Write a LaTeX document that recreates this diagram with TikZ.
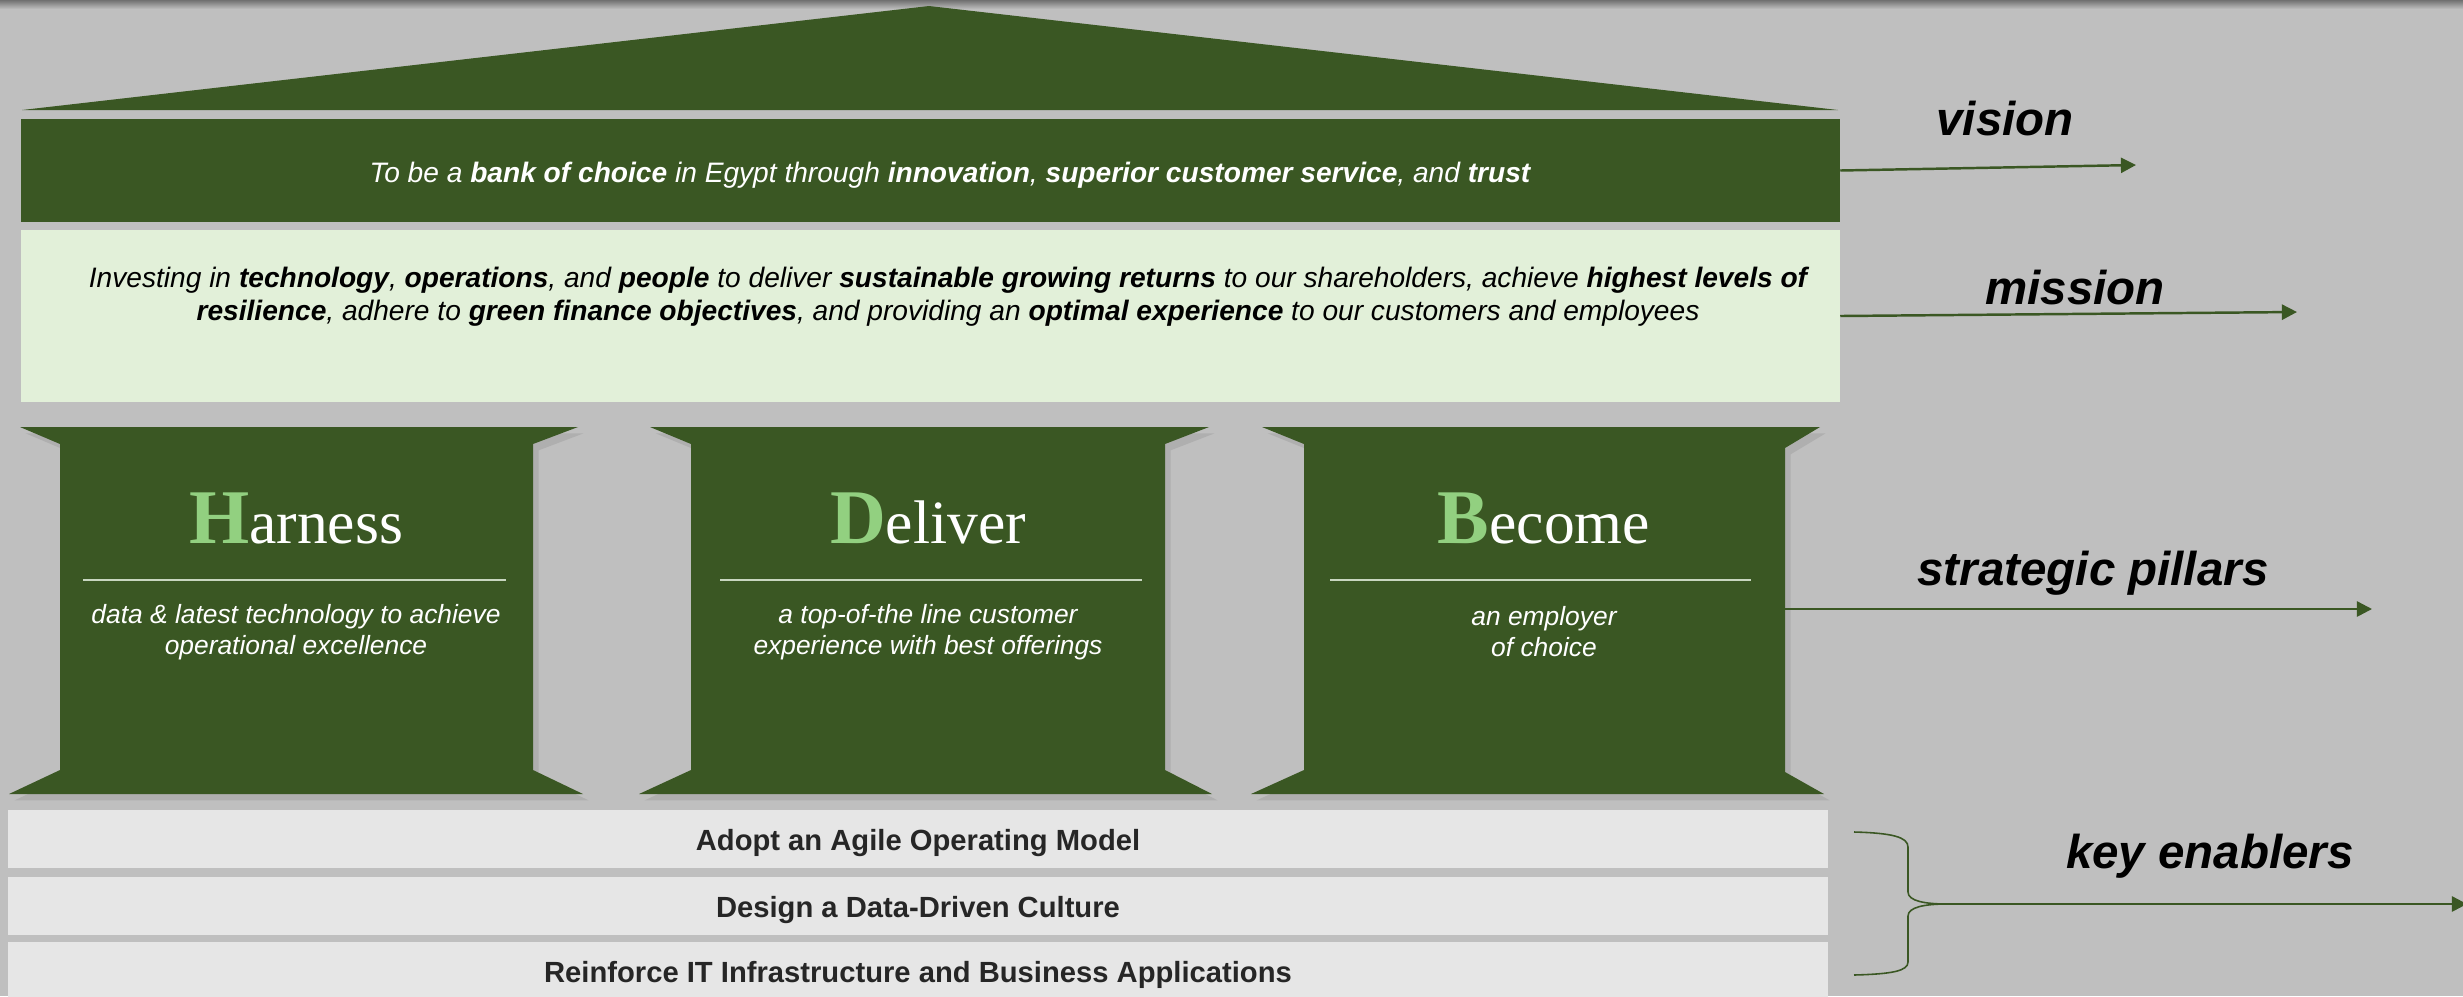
\documentclass[tikz,border=0pt]{standalone}
\usepackage{fontspec}
\setmainfont{Liberation Sans}
\newfontfamily\headfont{Liberation Serif}
\usetikzlibrary{arrows.meta,shadows}

\definecolor{bggray}{RGB}{191,191,191}
\definecolor{bandgray}{RGB}{112,112,112}
\definecolor{bankgreen}{RGB}{58,87,35}
\definecolor{palegreen}{RGB}{226,240,217}
\definecolor{lettergreen}{RGB}{146,208,128}
\definecolor{barwhite}{RGB}{230,230,230}
\definecolor{rulegreen}{RGB}{200,214,192}
\definecolor{textgray}{RGB}{38,38,38}

% big first letter of a pillar name
\newcommand{\pillarname}[2]{{\fontsize{22}{24}\selectfont\bfseries\color{lettergreen}#1}#2}

\tikzset{
    pillar/.style={fill=bankgreen, drop shadow={shadow xshift=1.6pt, shadow yshift=-1.8pt, opacity=0.25}},
    pillarhead/.style={text=white, anchor=base, inner sep=0pt, font=\headfont\fontsize{17.5}{20}\selectfont},
    pillartext/.style={text=white, align=center, font=\itshape\fontsize{7.5}{8.8}\selectfont},
    pillarrule/.style={draw=rulegreen, line width=0.45pt},
    enabler/.style={fill=barwhite, minimum width=18.18cm, minimum height=0.58cm, inner sep=0pt},
    enablertext/.style={text=textgray, font=\bfseries\fontsize{8.3}{10}\selectfont},
    tag/.style={anchor=base, inner sep=0pt, font=\bfseries\itshape\fontsize{13.5}{16}\selectfont},
    pointer/.style={draw=bankgreen, line width=0.7pt, -{Triangle[length=4.3pt,width=4.3pt]}},
}

\begin{document}
\begin{tikzpicture}[x=0.01cm,y=-0.01cm]
    \useasboundingbox (0,0) rectangle (2463,996);
    \fill[bggray] (0,0) rectangle (2463,996);
    \shade[top color=bandgray, bottom color=bggray] (0,0) rectangle (2463,9);

    % roof, vision and mission
    \fill[bankgreen] (22,110) -- (929,6) -- (1838,110) -- cycle;
    \node[fill=bankgreen, minimum width=18.17cm, minimum height=1.03cm, inner sep=0pt] (visionbox) at (930.5,170.5) {};
    \node[fill=palegreen, minimum width=18.17cm, minimum height=1.72cm, inner sep=0pt] (missionbox) at (930.5,316) {};

    \node[text=white, font=\itshape\fontsize{8}{9.5}\selectfont] (visiontext) at (950,175)
        {To be a \textbf{bank of choice} in Egypt through \textbf{innovation}, \textbf{superior customer service}, and \textbf{trust}};
    \node[align=center, font=\itshape\fontsize{8}{9.4}\selectfont] (missiontext) at (948,297)
        {Investing in \textbf{technology}, \textbf{operations}, and \textbf{people} to deliver \textbf{sustainable growing returns} to our shareholders, achieve \textbf{highest levels of}\\
         \textbf{resilience}, adhere to \textbf{green finance objectives}, and providing an \textbf{optimal experience} to our customers and employees};

    % the three pillars
    \fill[pillar] (20,427) -- (578,427) -- (533,444) -- (533,770) -- (583,794) -- (9,794) -- (60,770) -- (60,444) -- cycle;
    \fill[pillar] (650,427) -- (1209,427) -- (1165,444) -- (1165,770) -- (1212,794) -- (639,794) -- (691,770) -- (691,444) -- cycle;
    \fill[pillar] (1262,427) -- (1820,427) -- (1785,448) -- (1785,772) -- (1824,794) -- (1251,794) -- (1304,770) -- (1304,444) -- cycle;

    \node[pillarhead] (harness) at (296,543) {\pillarname{H}{arness}};
    \node[pillarhead] (deliver) at (928,543) {\pillarname{D}{eliver}};
    \node[pillarhead] (become) at (1544,543) {\pillarname{B}{ecome}};

    \draw[pillarrule] (83,580) -- (506,580);
    \draw[pillarrule] (720,580) -- (1142,580);
    \draw[pillarrule] (1330,580) -- (1751,580);

    \node[pillartext] (harnesstext) at (296,632) {data \& latest technology to achieve\\operational excellence};
    \node[pillartext] (delivertext) at (928,632) {a top-of-the line customer\\experience with best offerings};
    \node[pillartext] (becometext) at (1544,632) {an employer\\of choice};

    % key enablers
    \node[enabler] (agile) at (918,839) {};
    \node[enabler] (datadriven) at (918,906) {};
    \node[enabler] (itinfra) at (918,971) {};
    \node[enablertext] (agiletext) at (918,843) {Adopt an Agile Operating Model};
    \node[enablertext] (datadriventext) at (918,910) {Design a Data-Driven Culture};
    \node[enablertext] (itinfratext) at (918,975) {Reinforce IT Infrastructure and Business Applications};

    \draw[bankgreen, line width=0.45pt] (1854,832) .. controls (1892,833) and (1908,837) .. (1908,847) -- (1908,892)
        .. controls (1908,901) and (1925,904) .. (1947,904)
        .. controls (1925,904) and (1908,907) .. (1908,916) -- (1908,962)
        .. controls (1908,971) and (1892,974) .. (1854,975);

    % labels on the right
    \coordinate (visionend) at (2136,165);
    \coordinate (missionend) at (2297,312);
    \coordinate (pillarside) at (1785,609);
    \coordinate (pillarsend) at (2372,609);
    \coordinate (bracetip) at (1947,904);
    \coordinate (keysend) at (2467,904);

    \draw[pointer] (visionbox.east) -- (visionend);
    \draw[pointer] (missionbox.east) -- (missionend);
    \draw[pointer] (pillarside) -- (pillarsend);
    \draw[pointer] (bracetip) -- (keysend);

    \node[tag] (visionlabel) at (2005,135) {vision};
    \node[tag] (missionlabel) at (2075,304) {mission};
    \node[tag] (pillarslabel) at (2093,585) {strategic pillars};
    \node[tag] (keyslabel) at (2210,868) {key enablers};
\end{tikzpicture}
\end{document}
